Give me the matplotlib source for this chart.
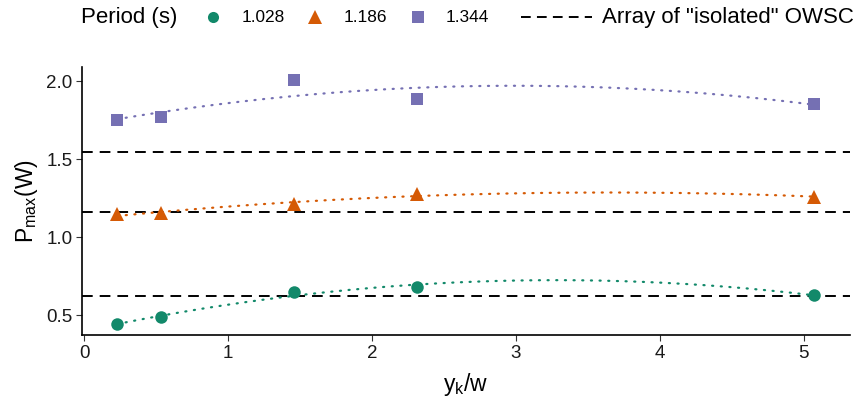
import numpy as np
import matplotlib
matplotlib.use("Agg")
import matplotlib.pyplot as plt
from matplotlib.lines import Line2D

plt.rcParams['font.family'] = ['Liberation Sans', 'DejaVu Sans']

# Data
x_vals = [0.23, 0.535, 1.46, 2.31, 5.07]
periods = ["1.028", "1.186", "1.344"]
p_1028 = [0.442, 0.487, 0.647, 0.679, 0.628]
p_1186 = [1.146, 1.152, 1.212, 1.274, 1.258]
p_1344 = [1.748, 1.771, 2.006, 1.885, 1.855]
isolated = [0.624, 1.158, 1.545]

colors = ["#12896a", "#d55a05", "#7570b3"]
markers = ["o", "^", "s"]
msizes = [9, 10.5, 8.6]
series = [p_1028, p_1186, p_1344]

fig = plt.figure(figsize=(8.58, 4.04), dpi=100)
ax = fig.add_axes([82/858, 1-335/404, (850-82)/858, (335-67)/404])

# isolated reference lines
for yv in isolated:
    ax.axhline(yv, color="black", lw=1.4, dashes=(5.5, 3.6), zorder=1)

xs = np.array(x_vals)
grid = np.linspace(xs.min(), xs.max(), 200)
for ys, c, m, ms in zip(series, colors, markers, msizes):
    coef = np.polyfit(xs, np.array(ys), 2)
    ax.plot(grid, np.polyval(coef, grid), color=c, lw=1.6,
            linestyle=(0, (0.5, 3.4)), dash_capstyle="round", zorder=2)
    ax.plot(xs, ys, linestyle="none", marker=m, markersize=ms, color=c,
            markeredgewidth=0, zorder=3)

ax.set_xlim(-0.014, 5.32)
ax.set_ylim(0.372, 2.09)
ax.set_xticks([0, 1, 2, 3, 4, 5])
ax.set_yticks([0.5, 1.0, 1.5, 2.0])
ax.set_yticklabels(["0.5", "1.0", "1.5", "2.0"])
for s in ["top", "right"]:
    ax.spines[s].set_visible(False)
for s in ["left", "bottom"]:
    ax.spines[s].set_linewidth(1.2)
    ax.spines[s].set_color("black")
ax.tick_params(axis="both", direction="out", length=4, width=0.8,
               color="#333333", labelsize=13.5, labelcolor="#1a1a1a", pad=3)
ax.set_xlabel(r"$\mathregular{y_k/w}$", fontsize=16.5, labelpad=7)
ax.set_ylabel(r"$\mathregular{P_{max}(W)}$", fontsize=16.5, labelpad=4)

# Legend at top (manual)
ly = 1 - 17/404
def fx(px):
    return px/858
fig.text(fx(81), ly, "Period (s)", fontsize=16, va="center", ha="left")
key_x = [213, 315, 418]
lab_x = [242, 344, 446]
leg_ms = [8, 10.5, 8]
for kx, lx, c, m, ms, lab in zip(key_x, lab_x, colors, markers, leg_ms, periods):
    fig.add_artist(Line2D([fx(kx)], [ly], marker=m, color=c, markersize=ms,
                          markeredgewidth=0, linestyle="none",
                          transform=fig.transFigure))
    fig.text(fx(lx), ly, lab, fontsize=12.4, va="center", ha="left")
fig.add_artist(Line2D([fx(521), fx(592)], [ly, ly], color="black", lw=1.4,
                      dashes=(5.0, 3.2), transform=fig.transFigure))
fig.text(fx(602), ly, 'Array of "isolated" OWSC', fontsize=16, va="center", ha="left")

fig.savefig("out.png", dpi=100)
